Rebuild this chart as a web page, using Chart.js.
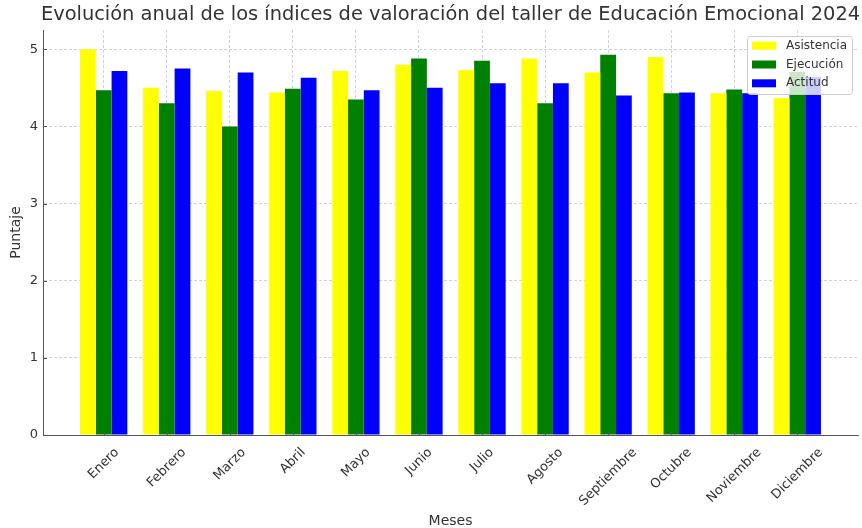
<!DOCTYPE html>
<html><head><meta charset="utf-8">
<style>html,body{margin:0;padding:0;background:#fff;} canvas{display:block}</style>
<script src="https://cdn.jsdelivr.net/npm/chart.js@4"></script>
</head><body>
<canvas id="c" width="862" height="528"></canvas>
<script>
const meses = ['Enero','Febrero','Marzo','Abril','Mayo','Junio','Julio','Agosto','Septiembre','Octubre','Noviembre','Diciembre'];
const asistencia = [5.00,4.50,4.46,4.44,4.72,4.80,4.73,4.88,4.70,4.90,4.43,4.37];
const ejecucion  = [4.47,4.30,4.00,4.49,4.35,4.88,4.85,4.30,4.93,4.43,4.48,4.71];
const actitud    = [4.72,4.75,4.70,4.63,4.47,4.50,4.56,4.56,4.40,4.44,4.43,4.64];
const yTicks = [0,1,2,3,4,5];
const titulo = 'Evolución anual de los índices de valoración del taller de Educación Emocional 2024';
const ejeX = 'Meses';
const ejeY = 'Puntaje';
const series = [
  {label:'Asistencia', data: asistencia, color:'#ffff00'},
  {label:'Ejecución', data: ejecucion, color:'#008000'},
  {label:'Actitud', data: actitud, color:'#0000ff'}
];

const FONT = '"DejaVu Sans", sans-serif';
const TXT = '#333333';

const deco = {
  id: 'deco',
  afterDraw(chart){
    const ctx = chart.ctx, ca = chart.chartArea, xs = chart.scales.x, ys = chart.scales.y;
    ctx.save();
    // inward tick marks
    ctx.strokeStyle = '#555'; ctx.lineWidth = 1;
    meses.forEach((m,i)=>{
      const px = Math.round(xs.getPixelForValue(i)) + 0.5;
      ctx.beginPath(); ctx.moveTo(px, ca.bottom); ctx.lineTo(px, ca.bottom - 4); ctx.stroke();
    });
    yTicks.forEach(v=>{
      const py = Math.round(ys.getPixelForValue(v)) + 0.5;
      ctx.beginPath(); ctx.moveTo(ca.left, py); ctx.lineTo(ca.left + 4, py); ctx.stroke();
    });
    // rotated x labels, centred under the tick
    ctx.font = '13px ' + FONT; ctx.fillStyle = TXT;
    ctx.textAlign = 'center'; ctx.textBaseline = 'middle';
    meses.forEach((m,i)=>{
      const px = xs.getPixelForValue(i);
      const L = ctx.measureText(m).width, H = 13 * 1.17;
      const h = (L + H) / Math.SQRT2;
      const cy = ca.bottom + 10 + h / 2;
      ctx.save(); ctx.translate(px, cy); ctx.rotate(-Math.PI / 4); ctx.fillText(m, 0, 0); ctx.restore();
    });
    // axis titles
    ctx.font = '14px ' + FONT;
    ctx.fillText(ejeX, (ca.left + ca.right) / 2, 521);
    ctx.save(); ctx.translate(16, (ca.top + ca.bottom) / 2); ctx.rotate(-Math.PI / 2); ctx.fillText(ejeY, 0, 0); ctx.restore();
    // title
    ctx.font = '19.4px ' + FONT;
    ctx.fillText(titulo, (ca.left + ca.right) / 2, 15);
    // legend
    const lx = 747, ly = 36, lw = 105, lh = 58;
    ctx.fillStyle = 'rgba(255,255,255,0.8)';
    ctx.strokeStyle = '#cccccc'; ctx.lineWidth = 1;
    ctx.beginPath();
    if (ctx.roundRect) ctx.roundRect(lx + 0.5, ly + 0.5, lw, lh, 3); else ctx.rect(lx + 0.5, ly + 0.5, lw, lh);
    ctx.fill(); ctx.stroke();
    ctx.font = '12px ' + FONT; ctx.textAlign = 'left';
    series.forEach((s,i)=>{
      const cy = 45.7 + i * 18.8;
      ctx.fillStyle = s.color; ctx.fillRect(752, cy - 4, 24, 8);
      ctx.fillStyle = TXT; ctx.fillText(s.label, 786, cy);
    });
    ctx.restore();
  }
};

new Chart(document.getElementById('c'), {
  type: 'bar',
  data: {
    datasets: series.map(s => ({
      label: s.label,
      data: s.data.map((v,i)=>({x:i, y:v})),
      backgroundColor: s.color,
      borderWidth: 0,
      categoryPercentage: 0.75,
      barPercentage: 1.0
    }))
  },
  options: {
    responsive: false,
    animation: false,
    events: [],
    layout: {padding: {left: 0, right: 4, top: 30, bottom: 0}},
    plugins: {legend: {display: false}, title: {display: false}, tooltip: {enabled: false}},
    scales: {
      x: {
        type: 'linear', min: -0.9625, max: 11.9625, z: 1, offset: false,
        afterBuildTicks: sc => { sc.ticks = meses.map((m,i)=>({value:i})); },
        afterFit: sc => { sc.height = 93; },
        ticks: {display: false},
        grid: {offset: false, color: 'rgba(176,176,176,0.7)', lineWidth: 0.8, drawTicks: false},
        border: {display: true, color: '#555', width: 1, dash: [3,2]}
      },
      y: {
        min: 0, max: 5.25, z: 1,
        afterBuildTicks: sc => { sc.ticks = yTicks.map(v=>({value:v})); },
        afterFit: sc => { sc.width = 43; },
        ticks: {font: {family: FONT, size: 13}, color: TXT, padding: 5},
        grid: {color: 'rgba(176,176,176,0.7)', lineWidth: 0.8, drawTicks: false},
        border: {display: true, color: '#555', width: 1, dash: [3,2]}
      }
    }
  },
  plugins: [deco]
});
</script>
</body></html>
